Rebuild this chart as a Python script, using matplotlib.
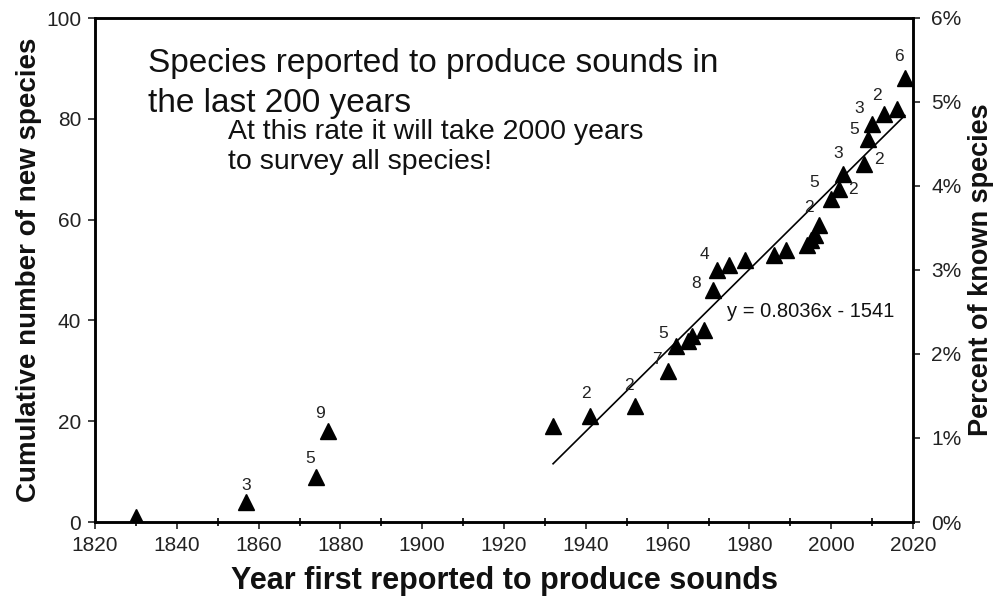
import numpy as np
import matplotlib
matplotlib.use('Agg')
import matplotlib.pyplot as plt
from matplotlib.ticker import MultipleLocator, FuncFormatter

plt.rcParams['font.family'] = ['Liberation Sans', 'DejaVu Sans']

# year each batch of species was first reported, and how many species in that year
years = [1830, 1857, 1874, 1877, 1932, 1941, 1952, 1960, 1962, 1965, 1966, 1969,
         1971, 1972, 1975, 1979, 1986, 1989, 1994, 1995, 1996, 1997, 2000, 2002,
         2003, 2008, 2009, 2010, 2013, 2016, 2018]
new_species = [1, 3, 5, 9, 1, 2, 2, 7, 5, 1, 1, 1,
               8, 4, 1, 1, 1, 1, 1, 1, 1, 2, 5, 2,
               3, 2, 5, 3, 2, 1, 6]
cumulative = np.cumsum(new_species)

# trendline from the figure
slope, intercept = 0.8036, -1541
fit_start = 1932

# label offsets (points) for the count labels, only for counts > 1
label_offsets = {1857: (0, 12), 1874: (-4, 13), 1877: (-6, 13), 1941: (-3, 16),
                 1952: (-4, 15), 1960: (-8, 8), 1962: (-9, 9), 1971: (-12, 5),
                 1972: (-9, 11), 1997: (-7, 12), 2000: (-12, 12), 2002: (10, 0),
                 2003: (-4, 15), 2008: (11, 3), 2009: (-10, 7), 2010: (-9, 11),
                 2013: (-5, 13), 2018: (-4, 16)}

fig = plt.figure(figsize=(9.96, 5.99), dpi=100)
ax = fig.add_axes([95 / 996, 77 / 599, 818 / 996, 504 / 599])

ax.plot(years, cumulative, linestyle='none', marker='^', markersize=11.5,
        color='black', zorder=3)

fit_x = np.array([fit_start, years[-1]])
ax.plot(fit_x, slope * fit_x + intercept, color='black', linewidth=1.2)

for yr, c, n in zip(years, cumulative, new_species):
    if n > 1:
        dx, dy = label_offsets.get(yr, (0, 12))
        ax.annotate(str(n), (yr, c), xytext=(dx, dy), textcoords='offset points',
                    ha='center', va='center', fontsize=12.5, color='#222222')

ax.set_xlim(1820, 2020)
ax.set_ylim(0, 100)
ax.xaxis.set_major_locator(MultipleLocator(20))
ax.xaxis.set_minor_locator(MultipleLocator(10))
ax.yaxis.set_major_locator(MultipleLocator(20))
ax.tick_params(axis='both', which='major', direction='out', length=5, width=1.2,
               labelsize=15, colors='#222222')
ax.tick_params(axis='y', pad=5)
ax.tick_params(axis='x', pad=5)
ax.tick_params(axis='x', which='minor', direction='inout', length=6, width=1.2)
for s in ax.spines.values():
    s.set_linewidth(1.8)

ax.set_xlabel('Year first reported to produce sounds', fontsize=22,
              fontweight='bold', labelpad=8, color='#111111')
ax.set_ylabel('Cumulative number of new species', fontsize=20,
              fontweight='bold', labelpad=3, color='#111111')

ax2 = ax.twinx()
ax2.set_ylim(0, 6)
ax2.yaxis.set_major_locator(MultipleLocator(1))
ax2.yaxis.set_major_formatter(FuncFormatter(lambda v, p: f'{v:.0f}%'))
ax2.tick_params(axis='y', direction='out', length=5, width=1.2, labelsize=15,
                colors='#222222', pad=8)
ax2.set_ylabel('Percent of known species', fontsize=19.5, fontweight='bold',
               labelpad=5, color='#111111')
for s in ax2.spines.values():
    s.set_linewidth(1.8)

ax.text(0.065, 0.94, 'Species reported to produce sounds in\nthe last 200 years',
        transform=ax.transAxes, fontsize=24, va='top', ha='left',
        linespacing=1.38, color='#111111')
ax.text(0.163, 0.80, 'At this rate it will take 2000 years\nto survey all species!',
        transform=ax.transAxes, fontsize=20.5, va='top', ha='left',
        linespacing=1.2, color='#111111')
ax.text(1974.5, 41.7, 'y = 0.8036x - 1541', fontsize=14.5, va='center', ha='left',
        color='#111111')

fig.savefig('out.png', dpi=100)
